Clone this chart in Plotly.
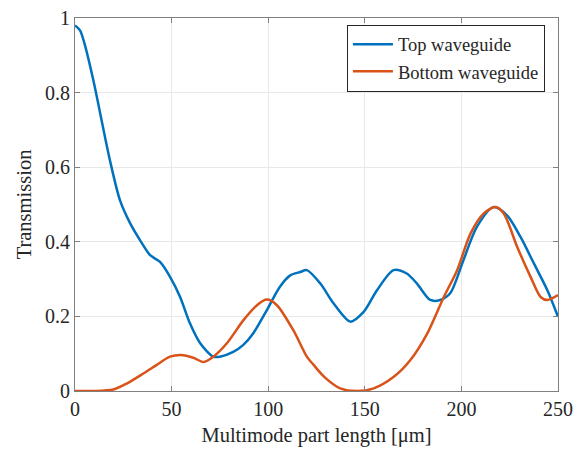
import plotly.graph_objects as go

top_x = [0, 2.6, 5, 9.5, 18.1, 23.3, 28.5, 33.7, 38.9, 44, 49.2, 54.4, 59.6, 64.8, 71.6, 75, 81.9, 87,
         92.3, 99.3, 106, 111.4, 116.6, 120, 127, 133.8, 142.5, 149.4, 156.3, 164.9, 171.7, 177, 183.9,
         189, 194.2, 201, 208, 216.6, 223.6, 230.6, 237.5, 244.5, 250]
top_y = [0.98, 0.967, 0.93, 0.833, 0.618, 0.511, 0.45, 0.404, 0.364, 0.346, 0.306, 0.252, 0.18, 0.128,
         0.092, 0.092, 0.105, 0.123, 0.155, 0.217, 0.279, 0.31, 0.319, 0.324, 0.288, 0.235, 0.186, 0.212,
         0.27, 0.324, 0.315, 0.288, 0.244, 0.244, 0.262, 0.35, 0.44, 0.493, 0.471, 0.413, 0.342, 0.27, 0.199]

bot_x = [0, 9.5, 19.8, 26.8, 35.4, 42.3, 49.2, 56.1, 61.3, 66.5, 71.6, 78.6, 87.2, 94.2, 99.3, 104.5,
         113, 120, 123.5, 129, 137.3, 146, 154.6, 165, 173.6, 182.3, 190.9, 197.8, 204.7, 211.6, 217.6,
         221.9, 228.9, 235.8, 241, 244.5, 250]
bot_y = [0, 0, 0.004, 0.02, 0.047, 0.07, 0.092, 0.096, 0.089, 0.078, 0.092, 0.128, 0.19, 0.23, 0.245,
         0.23, 0.163, 0.092, 0.07, 0.038, 0.007, 0, 0.007, 0.038, 0.083, 0.154, 0.252, 0.324, 0.422,
         0.476, 0.493, 0.476, 0.386, 0.306, 0.252, 0.244, 0.257]

x_ticks = [0, 50, 100, 150, 200, 250]
y_ticks = [0, 0.2, 0.4, 0.6, 0.8, 1]
y_tick_text = ["0", "0.2", "0.4", "0.6", "0.8", "1"]

FONT = "Liberation Serif, Times New Roman, serif"

fig = go.Figure()
fig.add_trace(go.Scatter(x=top_x, y=top_y, mode="lines", name="Top waveguide",
                         line=dict(color="#0072BD", width=2.5, shape="spline", smoothing=0.8)))
fig.add_trace(go.Scatter(x=bot_x, y=bot_y, mode="lines", name="Bottom waveguide",
                         line=dict(color="#D95319", width=2.5, shape="spline", smoothing=0.8)))

axis_common = dict(showline=True, linecolor="#808080", linewidth=1, mirror="ticks",
                   ticks="inside", ticklen=5, tickcolor="#808080", showgrid=True,
                   gridcolor="#e8e8e8", gridwidth=1, zeroline=False, automargin=False,
                   ticklabeloverflow="allow",
                   tickfont=dict(family=FONT, size=20, color="#262626"))

fig.update_xaxes(range=[0, 250], tickvals=x_ticks,
                 title=dict(text="Multimode part length [μm]", font=dict(family=FONT, size=20.5, color="#262626"),
                            standoff=8),
                 **axis_common)
fig.update_yaxes(range=[0, 1], tickvals=y_ticks, ticktext=y_tick_text,
                 title=dict(text="Transmission", font=dict(family=FONT, size=20.5, color="#262626"),
                            standoff=7),
                 **axis_common)

fig.update_layout(
    width=573, height=443,
    margin=dict(l=67, r=23, t=9.5, b=60),
    plot_bgcolor="white", paper_bgcolor="white",
    font=dict(family=FONT, color="#262626"),
    legend=dict(x=0.563, y=0.982, xanchor="left", yanchor="top",
                bgcolor="white", bordercolor="#262626", borderwidth=1,
                font=dict(family=FONT, size=18.5, color="#262626"),
                tracegroupgap=0, itemwidth=40),
    showlegend=True,
)

fig.write_html("out.html")
